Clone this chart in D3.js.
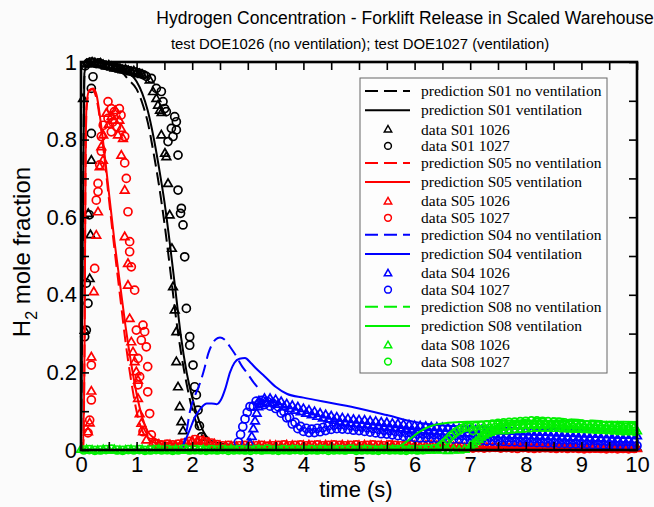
<!DOCTYPE html>
<html>
<head>
<meta charset="utf-8">
<script src="https://cdn.jsdelivr.net/npm/d3@7"></script>
<style>
body { margin: 0; background: #fbfbfb; }
</style>
</head>
<body>
<script>
//titles and tick labels
var titleText = "Hydrogen Concentration - Forklift Release in Scaled Warehouse";
var subtitleText = "test DOE1026 (no ventilation); test DOE1027 (ventilation)";
var xLabels = [0, 1, 2, 3, 4, 5, 6, 7, 8, 9, 10];
var xTickMarks = [0, 0.5, 1, 1.5, 2, 2.5, 3, 3.5, 4, 4.5, 5, 5.5, 6, 6.5, 7, 7.5, 8, 8.5, 9, 9.5, 10];
var yLabels = [0, 0.2, 0.4, 0.6, 0.8, 1];
var yTickMarks = [0, 0.1, 0.2, 0.3, 0.4, 0.5, 0.6, 0.7, 0.8, 0.9, 1];

//predictions, [time, mole fraction]
var s01NoVent = [[0,0],[0.03,0.5],[0.06,0.96],[0.1,0.99],[0.3,1.0],[0.5,0.995],[0.7,0.98],[0.85,0.955],[1.0,0.93],[1.1,0.895],[1.2,0.845],[1.3,0.77],[1.4,0.685],[1.5,0.585],[1.6,0.47],[1.7,0.35],[1.8,0.25],[1.9,0.17],[2.0,0.105],[2.1,0.06],[2.2,0.033],[2.3,0.02],[2.6,0.014],[3,0.01],[4,0.008],[10,0.005]];
var s01Vent = [[0,0],[0.03,0.5],[0.06,0.97],[0.1,0.99],[0.3,1.0],[0.5,0.997],[0.73,0.985],[0.9,0.968],[1.0,0.95],[1.1,0.92],[1.2,0.875],[1.3,0.81],[1.4,0.73],[1.5,0.64],[1.6,0.53],[1.7,0.41],[1.8,0.29],[1.9,0.2],[2.0,0.135],[2.1,0.085],[2.2,0.048],[2.3,0.028],[2.4,0.02],[2.6,0.015],[3,0.011],[4,0.008],[10,0.005]];
var s05NoVent = [[0,0],[0.04,0],[0.065,0.3],[0.08,0.7],[0.1,0.88],[0.15,0.925],[0.2,0.93],[0.25,0.92],[0.3,0.89],[0.4,0.78],[0.5,0.65],[0.6,0.52],[0.7,0.4],[0.8,0.28],[0.9,0.18],[1.0,0.1],[1.1,0.05],[1.2,0.03],[1.3,0.02],[1.5,0.012],[2.0,0.01],[3,0.006],[10,0.004]];
var s05Vent = [[0,0],[0.04,0],[0.065,0.3],[0.08,0.7],[0.1,0.89],[0.15,0.928],[0.22,0.932],[0.28,0.915],[0.35,0.85],[0.45,0.73],[0.6,0.54],[0.7,0.43],[0.8,0.32],[0.9,0.225],[1.0,0.145],[1.1,0.085],[1.2,0.048],[1.3,0.032],[1.4,0.024],[1.6,0.018],[2.0,0.016],[3,0.01],[10,0.005]];
var s04NoVent = [[1.8,0],[1.84,0.013],[1.9,0.05],[1.96,0.1],[2.05,0.14],[2.14,0.172],[2.22,0.21],[2.29,0.249],[2.35,0.27],[2.42,0.285],[2.5,0.29],[2.58,0.285],[2.68,0.266],[2.8,0.24],[2.9,0.215],[2.98,0.2],[3.1,0.175],[3.22,0.155]];
var s04Vent = [[1.8,0],[1.84,0.013],[1.95,0.05],[2.05,0.085],[2.14,0.105],[2.2,0.115],[2.26,0.12],[2.35,0.12],[2.44,0.118],[2.52,0.13],[2.6,0.16],[2.68,0.2],[2.76,0.225],[2.85,0.235],[2.95,0.237],[3.05,0.225],[3.15,0.21],[3.3,0.19],[3.5,0.163],[3.7,0.145],[4.0,0.135],[4.5,0.121],[5.0,0.107],[5.5,0.09],[6.0,0.072],[6.3,0.066],[7,0.06],[8,0.056],[9,0.053],[10,0.05]];
var s08NoVent = [[6.9,0],[7.0,0.008],[7.1,0.018],[7.2,0.028],[7.3,0.038],[7.4,0.047],[7.5,0.055],[7.6,0.062],[7.8,0.072],[8.0,0.078],[8.2,0.081],[8.4,0.082],[8.6,0.081],[8.8,0.079],[9.0,0.077],[9.2,0.076],[9.4,0.074],[9.6,0.072],[9.8,0.071],[10,0.07]];
var s08Vent = [[5.5,0],[5.6,0.003],[5.7,0.008],[5.8,0.016],[5.9,0.026],[6.0,0.038],[6.1,0.048],[6.2,0.056],[6.3,0.062],[6.4,0.066],[6.6,0.07],[6.8,0.072],[7.0,0.073],[7.5,0.075],[8.0,0.076],[8.5,0.075],[9.0,0.074],[9.5,0.073],[10,0.072]];

//measured data, scattered points [time, mole fraction]
var s01Data1026 = [[0.036,0.906],[0.186,0.747],[0.13,0.61],[0.17,0.555],[0.156,0.442],[0.066,0.309],[1.235,0.954],[1.295,0.924],[1.355,0.906],[1.385,0.889],[1.42,0.876],[1.45,0.87],[1.445,0.812],[1.51,0.765],[1.535,0.756],[1.565,0.687],[1.595,0.606],[1.635,0.52],[1.655,0.421],[1.685,0.361],[1.715,0.305],[1.715,0.228],[1.745,0.163],[1.775,0.112],[1.805,0.073],[1.835,0.05]];
var s01Data1027 = [[0.216,0.962],[0.186,0.932],[0.186,0.816],[0.15,0.606],[0.096,0.43],[0.126,0.378],[0.096,0.309],[0.066,0.292],[1.265,0.958],[1.355,0.932],[1.445,0.924],[1.475,0.898],[1.505,0.88],[1.535,0.872],[1.685,0.859],[1.715,0.846],[1.625,0.829],[1.715,0.825],[1.655,0.808],[1.565,0.795],[1.745,0.76],[1.745,0.67],[1.805,0.623],[1.79,0.61],[1.835,0.58],[1.865,0.498],[1.895,0.365],[1.955,0.292],[1.955,0.27],[2.015,0.219],[2.045,0.163],[2.075,0.142],[2.105,0.103],[2.13,0.062],[2.165,0.034]];
var s05Data1026 = [[0.455,0.868],[0.55,0.86],[0.62,0.875],[0.6,0.85],[0.5,0.84],[0.69,0.85],[0.72,0.829],[0.665,0.812],[0.4,0.812],[0.755,0.803],[0.365,0.782],[0.395,0.747],[0.725,0.76],[0.336,0.73],[0.786,0.67],[0.306,0.614],[0.275,0.554],[0.786,0.55],[0.845,0.481],[0.845,0.425],[0.23,0.408],[0.875,0.339],[0.905,0.279],[0.935,0.253],[0.965,0.228],[0.995,0.202],[1.025,0.18],[1.025,0.133],[1.055,0.094],[1.085,0.069],[1.115,0.047],[1.175,0.026],[0.186,0.24],[0.186,0.152],[0.156,0.07],[0.126,0.047]];
var s05Data1027 = [[0.486,0.898],[0.545,0.88],[0.6,0.872],[0.69,0.88],[0.72,0.863],[0.486,0.855],[0.4,0.837],[0.57,0.845],[0.64,0.833],[0.545,0.82],[0.786,0.808],[0.365,0.808],[0.365,0.77],[0.336,0.735],[0.786,0.74],[0.815,0.7],[0.306,0.687],[0.306,0.666],[0.275,0.644],[0.845,0.614],[0.875,0.537],[0.875,0.511],[0.246,0.468],[0.905,0.472],[0.965,0.412],[1.115,0.322],[0.995,0.309],[1.145,0.305],[1.085,0.283],[1.175,0.266],[1.025,0.236],[1.2,0.215],[1.055,0.189],[1.025,0.168],[1.2,0.15],[1.235,0.094],[1.115,0.047],[1.265,0.039],[0.186,0.219],[0.186,0.129],[0.156,0.077],[0.126,0.044]];
var s04Rise1026 = [[3.04,0.017],[3.07,0.035],[3.1,0.055],[3.13,0.075],[3.16,0.095],[3.19,0.112]];
var s04Rise1027 = [[2.83,0.02],[2.87,0.04],[2.91,0.06],[2.95,0.08],[2.99,0.097],[3.04,0.112]];

//measured data, sampled runs: first time, step, values
var coarseStep = 0.1;
var fineStep = 0.05;
var tailStep = 0.4;
var s01Top1026Start = 0.1;
var s01Top1026 = [0.995,0.998,1.0,0.998,0.995,0.997,0.993,0.99,0.992,0.988,0.985,0.987,0.983,0.98,0.982,0.978,0.975,0.977,0.972,0.97,0.968];
var s01Top1027Start = 0.075;
var s01Top1027 = [0.99,0.997,1.0,0.999,0.996,0.998,0.994,0.992,0.99,0.99,0.987,0.985,0.984,0.982,0.98,0.979,0.977,0.975,0.974,0.972,0.97,0.967,0.963];
var s01Tail1026Start = 2.4;
var s01Tail1026 = [0.012,0.008,0.01,0.007,0.009,0.008,0.006,0.008,0.007,0.009,0.008,0.006,0.007,0.009,0.008,0.007,0.006,0.008,0.007,0.006];
var s05Tail1026Start = 1.3;
var s05Tail1026 = [0.02,0.015,0.012,0.014,0.012,
  0.016,0.02,0.024,0.026,0.025,0.02,0.016,
  0.012,0.01,0.011,0.009,0.012,0.011,0.01,0.012,0.011,0.013,0.012,0.011,0.013,0.012,0.011,
  0.012,0.013,0.011,0.012,0.013,0.012,0.011,0.013,0.012,0.011,0.012,0.013,0.012,0.011,0.012,0.012,0.013,0.011,0.012,0.013,0.012,0.011,0.012,0.013,0.012,0.011,0.01,0.009,0.008,0.007,
  0.006,0.005,0.006,0.007,0.006,0.005,0.006,0.005,0.006,0.007,0.006,0.005,0.006,0.005,0.004,0.005,0.006,0.005,0.004,0.005,0.004,0.005,0.004,0.003,0.004,0.005,0.004,0.003,0.004,0.003,0.004];
var s05Tail1027Start = 1.35;
var s05Tail1027 = [0.016,0.013,0.015,0.013,0.015,
  0.018,0.022,0.027,0.024,0.021,0.018,0.014,
  0.011,0.012,0.01,0.011,0.012,0.01,0.011,0.012,0.01,0.011,0.012,0.013,0.011,0.012,0.013,
  0.011,0.012,0.013,0.011,0.012,0.013,0.012,0.011,0.012,0.013,0.011,0.012,0.013,0.012,0.011,0.013,0.012,0.011,0.012,0.013,0.011,0.012,0.013,0.012,0.011,0.01,0.009,0.008,0.007,0.006,
  0.005,0.006,0.005,0.006,0.007,0.005,0.006,0.005,0.004,0.006,0.005,0.004,0.005,0.006,0.005,0.004,0.005,0.004,0.005,0.004,0.003,0.004,0.005,0.004,0.003,0.004,0.003,0.004,0.003,0.004];
var s04Band1026Start = 3.2;
var s04Band1026 = [0.127,0.12,0.133,0.123,0.133,0.122,0.13,0.118,0.125,0.112,
  0.119,0.107,0.115,0.103,0.111,0.099,0.107,0.095,0.103,0.091,
  0.099,0.087,0.095,0.083,0.091,0.08,0.088,0.077,0.085,0.074,
  0.083,0.072,0.081,0.07,0.079,0.069,0.078,0.067,0.077,0.066,
  0.075,0.064,0.074,0.063,0.072,0.061,0.071,0.06,0.069,0.058,
  0.068,0.057,0.066,0.055,0.065,0.054,0.063,0.053,0.062,0.052,
  0.061,0.051,0.06,0.05,0.059,0.049,0.058,0.048,0.057,0.047,
  0.056,0.046,0.055,0.045,0.054,0.044,0.053,
  0.043,0.052,0.042,0.052,0.042,0.051,0.041,0.051,0.041,0.05,
  0.04,0.05,0.04,0.049,0.039,0.049,0.039,0.048,0.038,0.048,
  0.038,0.047,0.037,0.047,0.037,0.046,0.036,0.046,0.036,0.045,
  0.035,0.045,0.035,0.044,0.034,0.044,0.034,0.043,0.033,0.042,
  0.032,0.042,0.032,0.041,0.031,0.041,0.031,0.04,0.03,0.04,
  0.03,0.039,0.029,0.039,0.029,0.038,0.028,0.038,0.027,0.037];
var s04Band1027Start = 3.1;
var s04Band1027 = [0.113,0.126,0.119,0.128,0.117,0.125,0.113,0.12,0.107,0.111,
  0.095,0.099,0.083,0.084,0.067,0.071,0.055,0.061,0.048,0.056,
  0.045,0.054,0.045,0.056,0.047,0.058,0.05,0.062,0.053,0.064,
  0.055,0.065,0.054,0.064,0.053,0.062,0.051,0.06,0.05,
  0.059,0.048,0.057,0.046,0.055,0.044,0.053,0.042,0.051,0.041,
  0.05,0.039,0.048,0.037,0.046,0.035,0.044,0.034,0.043,0.032,
  0.041,0.031,0.041,0.031,0.04,0.03,0.04,0.03,0.039,0.029,
  0.039,0.029,0.038,0.028,0.038,0.028,0.037,0.027,0.036,0.026,
  0.034,0.024,0.034,0.024,0.033,0.023,0.033,0.023,0.032,0.022,
  0.032,0.022,0.031,0.021,0.031,0.021,0.03,0.02,0.03,0.02,
  0.03,0.02,0.029,0.019,0.029,0.019,0.028,0.018,0.028,0.018,
  0.027,0.017,0.027,0.017,0.026,0.016,0.026,0.016,0.025,0.015,
  0.025,0.015,0.024,0.014,0.024,0.014,0.023,0.013,0.023,0.013,
  0.022,0.012,0.022,0.012,0.021,0.011,0.021,0.011,0.021,0.011];
var s08Zero1026Start = 0;
var s08Zero1026 = [0.002,0.001,0,-0.001,0.001,0,0.001,-0.001,0,0.001,
  0,0.001,-0.001,0,0.002,0,-0.001,0.001,0,0.001,
  -0.001,0,0.001,0,-0.001,0.001,0,0.002,0,-0.001,
  0.001,0,0.001,-0.001,0,0.001,0,-0.001,0.001,0,
  0.001,0,-0.001,0.001,0,0.002,0,-0.001,0,0.001,
  0,0.001,-0.001,0,0.001,0,0.001,-0.001,0,0.001,
  0,-0.001,0.001,0,0.001,0,-0.001,0.001,0,0.002];
var s08Band1026Start = 7.0;
var s08Band1026 = [0.01,0.016,0.022,0.028,0.034,0.039,0.043,0.046,0.049,0.051,0.053,
  0.059,0.05,0.061,0.052,0.062,0.053,0.063,0.054,0.064,0.055,
  0.065,0.056,0.066,0.057,0.067,0.057,0.067,0.057,0.066,0.056,
  0.066,0.056,0.065,0.055,0.065,0.055,0.064,0.054,0.064,0.054,
  0.063,0.053,0.063,0.053,0.062,0.052,0.062,0.052,0.061,0.051,
  0.061,0.051,0.061,0.051,0.06,0.05,0.06,0.05,0.06,0.05];
var s08Zero1027Start = 0.05;
var s08Zero1027 = [0,0.001,-0.001,0,0.001,0.002,0,-0.001,0.001,0,
  0.001,-0.001,0,0.001,0,0.001,-0.001,0,0.002,0,
  0.001,0,-0.001,0.001,0,0.001,-0.001,0,0.001,0,
  -0.001,0.001,0,0.002,0,-0.001,0.001,0,0.001,0,
  -0.001,0.001,0,0.001,-0.001,0,0.001,0,0.002,-0.001,
  0,0.001,0,-0.001,0.001,0,0.001,0,-0.001,0.001,
  0,0.001,0.002,0.003];
var s08Band1027Start = 6.45;
var s08Band1027 = [0.008,0.014,0.02,0.027,0.035,0.041,0.047,0.051,0.055,0.058,0.06,
  0.059,0.05,0.061,0.052,0.063,0.054,0.065,0.056,0.067,0.058,
  0.069,0.06,0.07,0.061,0.071,0.062,0.072,0.063,0.073,0.064,0.074,
  0.065,0.075,0.065,0.075,0.065,0.074,0.064,0.073,0.063,0.072,
  0.062,0.071,0.061,0.07,0.06,0.069,0.058,0.067,0.057,
  0.066,0.056,0.065,0.055,0.064,0.054,0.063,0.053,0.062,0.052,
  0.061,0.051,0.06,0.05,0.059,0.049,0.058,0.049,0.058,0.048];

//expand a sampled run into [time, value] points
function run(start, step, values){
    return values.map(function(v, i){ return [+(start + i * step).toFixed(3), v]; });
}

var sensors = [
    {name: "S01", color: "#000000", noVent: s01NoVent, vent: s01Vent,
     d1026: run(s01Top1026Start, fineStep, s01Top1026).concat(s01Data1026, run(s01Tail1026Start, tailStep, s01Tail1026)),
     d1027: run(s01Top1027Start, fineStep, s01Top1027).concat(s01Data1027)},
    {name: "S05", color: "#ff0000", noVent: s05NoVent, vent: s05Vent,
     d1026: s05Data1026.concat(run(s05Tail1026Start, coarseStep, s05Tail1026)),
     d1027: s05Data1027.concat(run(s05Tail1027Start, coarseStep, s05Tail1027))},
    {name: "S04", color: "#0000ff", noVent: s04NoVent, vent: s04Vent,
     d1026: s04Rise1026.concat(run(s04Band1026Start, fineStep, s04Band1026)),
     d1027: s04Rise1027.concat(run(s04Band1027Start, fineStep, s04Band1027))},
    {name: "S08", color: "#00f000", noVent: s08NoVent, vent: s08Vent,
     d1026: run(s08Zero1026Start, coarseStep, s08Zero1026).concat(run(s08Band1026Start, fineStep, s08Band1026)),
     d1027: run(s08Zero1027Start, coarseStep, s08Zero1027).concat(run(s08Band1027Start, fineStep, s08Band1027))}
];

var width = 654, height = 507;
var svg = d3.select("body").append("svg")
    .attr("width", width)
    .attr("height", height)
    .style("font-family", "'Liberation Sans', Arial, sans-serif");

var x = d3.scaleLinear().domain([0, 10]).range([81, 637]);
var y = d3.scaleLinear().domain([0, 1]).range([450, 62]);

var line = d3.line()
    .x(function(d){ return x(d[0]); })
    .y(function(d){ return y(d[1]); })
    .curve(d3.curveMonotoneX);

var triPath = "M0,-4.4L4.3,3L-4.3,3Z";
var circleR = 4;
var markStroke = 1.7;
var dash = "13,6";

//titles
svg.append("text").attr("x", 405).attr("y", 24)
    .attr("text-anchor", "middle").style("font-size", "17.5px")
    .text(titleText);
svg.append("text").attr("x", 360).attr("y", 49)
    .attr("text-anchor", "middle").style("font-size", "14.9px")
    .text(subtitleText);

//series, in legend order
sensors.forEach(function(s){
    svg.append("path").datum(s.noVent)
        .attr("d", line).attr("fill", "none")
        .attr("stroke", s.color).attr("stroke-width", 2)
        .attr("stroke-dasharray", dash);
    svg.append("path").datum(s.vent)
        .attr("d", line).attr("fill", "none")
        .attr("stroke", s.color).attr("stroke-width", 2);
    svg.append("g").selectAll("path").data(s.d1026).enter()
        .append("path")
        .attr("d", triPath)
        .attr("transform", function(d){ return "translate(" + x(d[0]) + "," + y(d[1]) + ")"; })
        .attr("fill", "none").attr("stroke", s.color).attr("stroke-width", markStroke);
    svg.append("g").selectAll("circle").data(s.d1027).enter()
        .append("circle")
        .attr("cx", function(d){ return x(d[0]); })
        .attr("cy", function(d){ return y(d[1]); })
        .attr("r", circleR)
        .attr("fill", "none").attr("stroke", s.color).attr("stroke-width", markStroke);
});

//axes: inward ticks on all four sides
function styleAxis(g){
    g.select(".domain").remove();
    g.selectAll(".tick line").attr("stroke", "#000").attr("stroke-width", 1.6);
    g.selectAll(".tick text").attr("fill", "#000").style("font-size", "22px")
        .style("font-family", "'Liberation Sans', Arial, sans-serif");
}
var fmt = d3.format("~g");
svg.append("g").attr("transform", "translate(0," + y(0) + ")")
    .call(d3.axisBottom(x).tickValues(xTickMarks).tickSize(-8).tickPadding(6)
        .tickFormat(function(d){ return xLabels.indexOf(d) >= 0 ? fmt(d) : ""; }))
    .call(styleAxis);
svg.append("g").attr("transform", "translate(0," + y(1) + ")")
    .call(d3.axisTop(x).tickValues(xTickMarks).tickSize(-8).tickFormat(""))
    .call(styleAxis);
svg.append("g").attr("transform", "translate(" + x(0) + ",0)")
    .call(d3.axisLeft(y).tickValues(yTickMarks).tickSize(-8).tickPadding(4)
        .tickFormat(function(d){ return yLabels.indexOf(d) >= 0 ? fmt(d) : ""; }))
    .call(styleAxis);
svg.append("g").attr("transform", "translate(" + x(10) + ",0)")
    .call(d3.axisRight(y).tickValues(yTickMarks).tickSize(-8).tickFormat(""))
    .call(styleAxis);

//plot frame
svg.append("rect")
    .attr("x", x(0)).attr("y", y(1))
    .attr("width", x(10) - x(0)).attr("height", y(0) - y(1))
    .attr("fill", "none").attr("stroke", "#000").attr("stroke-width", 2.6);

//axis titles
svg.append("text").attr("x", 356).attr("y", 497)
    .attr("text-anchor", "middle").style("font-size", "22px")
    .text("time (s)");
var yTitle = svg.append("text")
    .attr("transform", "translate(30,252) rotate(-90)")
    .attr("text-anchor", "middle").style("font-size", "24px");
yTitle.append("tspan").text("H");
yTitle.append("tspan").attr("dy", 7).style("font-size", "16px").text("2");
yTitle.append("tspan").attr("dy", -7).text(" mole fraction");

//legend
var entries = [];
sensors.forEach(function(s){
    entries.push({kind: "dash", color: s.color, label: "prediction " + s.name + " no ventilation"});
    entries.push({kind: "solid", color: s.color, label: "prediction " + s.name + " ventilation"});
    entries.push({kind: "tri", color: s.color, label: "data " + s.name + " 1026"});
    entries.push({kind: "circ", color: s.color, label: "data " + s.name + " 1027"});
});
var rowGap = {dash: 19.2, solid: 19.2, tri: 16.5, circ: 17};
var rowY = 91;
entries.forEach(function(e){ e.y = rowY; rowY += rowGap[e.kind]; });

var legend = svg.append("g");
legend.append("rect")
    .attr("x", 360).attr("y", 78).attr("width", 247).attr("height", 295)
    .attr("fill", "#fdfdfd").attr("stroke", "#666").attr("stroke-width", 1);
var rows = legend.selectAll("g.row").data(entries).enter()
    .append("g").attr("class", "row")
    .attr("transform", function(d){ return "translate(0," + d.y + ")"; });
rows.filter(function(d){ return d.kind === "dash" || d.kind === "solid"; })
    .append("line")
    .attr("x1", 365).attr("x2", 410)
    .attr("stroke", function(d){ return d.color; }).attr("stroke-width", 2)
    .attr("stroke-dasharray", function(d){ return d.kind === "dash" ? dash : null; });
rows.filter(function(d){ return d.kind === "tri"; })
    .append("path").attr("d", "M0,-3.9L3.7,2.6L-3.7,2.6Z")
    .attr("transform", "translate(388,0)")
    .attr("fill", "none").attr("stroke", function(d){ return d.color; }).attr("stroke-width", 1.5);
rows.filter(function(d){ return d.kind === "circ"; })
    .append("circle").attr("cx", 388).attr("r", 3.4)
    .attr("fill", "none").attr("stroke", function(d){ return d.color; }).attr("stroke-width", 1.5);
rows.append("text")
    .attr("x", 421).attr("dy", "0.33em")
    .style("font-family", "'Liberation Serif', 'Times New Roman', serif")
    .style("font-size", "15.5px")
    .text(function(d){ return d.label; });
</script>
</body>
</html>
